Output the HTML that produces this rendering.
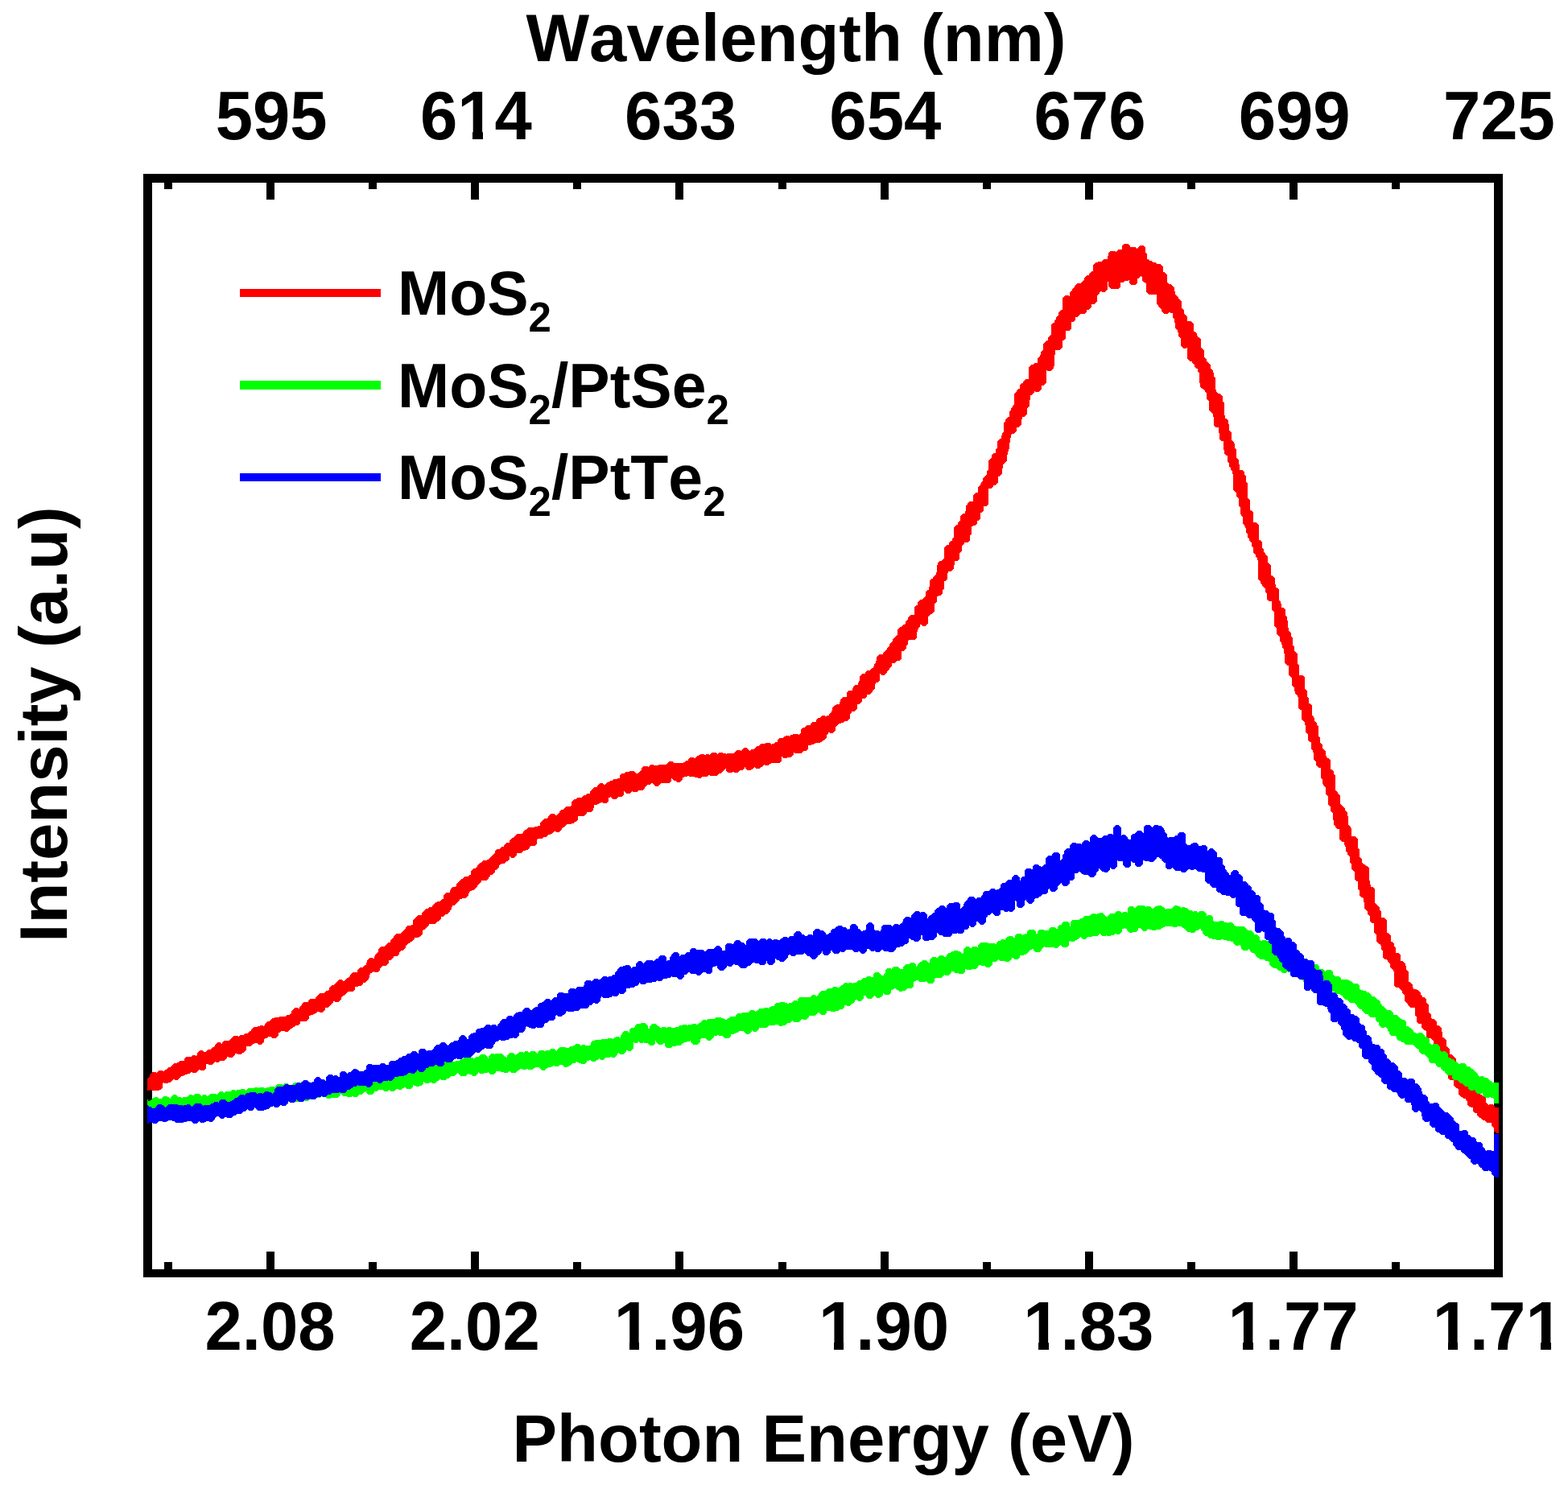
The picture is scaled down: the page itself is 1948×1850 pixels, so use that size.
<!DOCTYPE html>
<html><head><meta charset="utf-8"><title>PL spectra</title>
<style>
html,body{margin:0;padding:0;background:#fff;}
body{width:1948px;height:1850px;overflow:hidden;}
svg{display:block;}
text{font-kerning:none;font-family:"Liberation Sans",Arial,Helvetica,sans-serif;font-weight:bold;fill:#000;}
.ax text{font-size:83.3px;}
.lg text{font-size:77px;}
</style></head><body>
<svg width="1948" height="1850" viewBox="0 0 1948 1850">
<rect width="1948" height="1850" fill="#fff"/>
<g class="frame">
<g fill="#000" shape-rendering="crispEdges">
<rect x="178" y="216" width="11" height="1371"/>
<rect x="1856" y="216" width="11" height="1371"/>
<rect x="178" y="216" width="1689" height="11"/>
<rect x="178" y="1577" width="1689" height="10"/>
<rect x="331" y="220" width="10" height="28"/>
<rect x="331" y="1555" width="10" height="28"/>
<rect x="585" y="220" width="10" height="28"/>
<rect x="585" y="1555" width="10" height="28"/>
<rect x="839" y="220" width="10" height="28"/>
<rect x="839" y="1555" width="10" height="28"/>
<rect x="1094" y="220" width="10" height="28"/>
<rect x="1094" y="1555" width="10" height="28"/>
<rect x="1348" y="220" width="10" height="28"/>
<rect x="1348" y="1555" width="10" height="28"/>
<rect x="1602" y="220" width="10" height="28"/>
<rect x="1602" y="1555" width="10" height="28"/>
<rect x="204" y="220" width="10" height="15"/>
<rect x="204" y="1568" width="10" height="15"/>
<rect x="458" y="220" width="10" height="15"/>
<rect x="458" y="1568" width="10" height="15"/>
<rect x="712" y="220" width="10" height="15"/>
<rect x="712" y="1568" width="10" height="15"/>
<rect x="967" y="220" width="10" height="15"/>
<rect x="967" y="1568" width="10" height="15"/>
<rect x="1221" y="220" width="10" height="15"/>
<rect x="1221" y="1568" width="10" height="15"/>
<rect x="1475" y="220" width="10" height="15"/>
<rect x="1475" y="1568" width="10" height="15"/>
<rect x="1729" y="220" width="10" height="15"/>
<rect x="1729" y="1568" width="10" height="15"/>
</g>
</g>
<g class="ax">
<text x="989" y="76" text-anchor="middle">Wavelength (nm)</text>
<text x="1023" y="1816" text-anchor="middle">Photon Energy (eV)</text>
<text transform="translate(82.5,900) rotate(-90)" text-anchor="middle">Intensity (a.u)</text>
<text transform="translate(337.2,173) scale(1,1.03)" text-anchor="middle">595</text>
<text transform="translate(591.4,173) scale(1,1.03)" text-anchor="middle">614</text>
<text transform="translate(845.6,173) scale(1,1.03)" text-anchor="middle">633</text>
<text transform="translate(1099.8,173) scale(1,1.03)" text-anchor="middle">654</text>
<text transform="translate(1354.0,173) scale(1,1.03)" text-anchor="middle">676</text>
<text transform="translate(1608.2,173) scale(1,1.03)" text-anchor="middle">699</text>
<text transform="translate(1862.4,173) scale(1,1.03)" text-anchor="middle">725</text>
<text transform="translate(335.5,1677) scale(1,1.03)" text-anchor="middle">2.08</text>
<text transform="translate(589.7,1677) scale(1,1.03)" text-anchor="middle">2.02</text>
<text transform="translate(843.9,1677) scale(1,1.03)" text-anchor="middle">1.96</text>
<text transform="translate(1098.1,1677) scale(1,1.03)" text-anchor="middle">1.90</text>
<text transform="translate(1352.3,1677) scale(1,1.03)" text-anchor="middle">1.83</text>
<text transform="translate(1606.5,1677) scale(1,1.03)" text-anchor="middle">1.77</text>
<text transform="translate(1860.7,1677) scale(1,1.03)" text-anchor="middle">1.71</text>
</g>
<g class="glyphfix" fill="#fff" shape-rendering="crispEdges">
<rect x="573" y="162" width="14" height="13"/>
<rect x="600" y="162" width="13" height="13"/>
<rect x="768" y="1666" width="14" height="13"/>
<rect x="794" y="1666" width="13" height="13"/>
<rect x="1022" y="1666" width="14" height="13"/>
<rect x="1048" y="1666" width="13" height="13"/>
<rect x="1276" y="1666" width="14" height="13"/>
<rect x="1303" y="1666" width="13" height="13"/>
<rect x="1530" y="1666" width="14" height="13"/>
<rect x="1557" y="1666" width="13" height="13"/>
<rect x="1785" y="1666" width="14" height="13"/>
<rect x="1811" y="1666" width="13" height="13"/>
<rect x="1900" y="1666" width="14" height="13"/>
<rect x="1927" y="1666" width="13" height="13"/>
</g>
<g class="curves" stroke="none" shape-rendering="crispEdges">
<path d="M183,1340h1v-1h1v-1h1v-3h1v-1h1v-1h1v-1h5v1h1v-1h1v-1h1v-1h5v1h2v-1h1v-1h2v-1h1v-1h1v-1h3v-1h1v-1h1v-1h1v-1h1v-1h4v-1h2v-1h1v-1h6v-3h1v-1h1v-1h7v-1h1v-1h4v1h1v-1h1v-3h1v-1h1v-1h1v-1h4v1h1v1h3v-1h1v-1h1v-1h4v-1h1v-1h1v-1h2v-1h1v-2h1v-1h1v-1h1v-1h4v1h1v1h1v-2h1v-1h1v-1h7v-1h1v-1h1v-1h1v-1h1v-1h1v-1h6v1h1v-1h1v-1h5v-1h1v-1h4v-1h1v-1h1v-1h2v-2h1v-1h1v-1h1v-1h5v-1h3v-1h4v1h1v-1h1v-2h1v-1h1v-1h1v-1h3v-1h1v-1h1v-1h1v-1h3v-1h6v-1h8v-1h1v-1h4v-1h1v-1h1v-3h1v-1h1v-1h1v-1h1v-1h4v1h2v-2h1v-1h1v-1h1v-2h1v-1h1v-1h6v-2h1v-1h1v-1h7v-2h1v-1h1v-1h1v-1h1v-1h1v-1h6v-1h1v-1h1v-1h3v-1h1v-3h1v-1h1v-1h1v-1h3v-1h1v-1h1v-1h1v-1h1v-1h1v-1h1v-1h4v1h1v1h2v-1h1v-1h1v-1h1v-1h2v-1h1v-1h1v-2h1v-1h1v-1h1v-1h6v-3h1v-1h1v-1h1v-1h4v-1h1v-1h1v-1h2v-3h1v-3h1v-1h1v-1h1v-1h4v1h2v-3h1v-2h1v-1h1v-1h1v-1h1v-4h1v-1h1v-1h1v-1h5v-1h1v-1h1v-1h1v-1h1v-1h3v-3h1v-1h1v-1h1v-1h1v-2h1v-1h1v-1h1v-1h6v-1h1v-1h1v-1h1v-1h1v-1h1v-1h1v-2h1v-1h1v-1h5v-1h2v-6h1v-1h1v-1h1v-1h1v-1h1v-1h1v-1h5v-3h1v-1h1v-1h1v-1h1v-1h1v-1h3v-1h1v-1h4v-2h1v-1h1v-1h1v-1h1v-1h2v-1h4v-1h1v-1h1v-1h2v-5h1v-1h1v-1h1v-1h5v-3h1v-2h1v-1h1v-1h4v-1h1v-3h1v-1h1v-1h1v-1h1v-1h1v-1h1v-1h2v-1h1v-1h1v-1h5v-1h1v-1h2v-5h1v-1h1v-1h1v-1h3v-1h1v-1h1v-2h1v-1h1v-1h1v-1h2v-1h1v-1h1v-1h5v-1h2v-1h1v-1h1v-1h1v-1h1v-1h1v-1h1v-1h1v-1h1v-3h1v-1h1v-1h4v-1h1v-1h1v-1h3v-2h1v-1h1v-1h1v-1h4v-3h1v-1h1v-1h1v-1h2v-1h1v-1h1v-1h1v-1h1v-1h7v-1h1v-2h1v-1h1v-1h2v-1h1v-1h1v-1h8v-1h4v-1h3v-4h1v-1h1v-1h1v-1h1v-1h1v-1h4v-1h1v-2h1v-1h1v-1h1v-1h5v1h1v1h2v-1h1v-1h1v-1h1v-2h1v-1h1v-1h3v-1h1v-1h1v-1h1v-1h6v-1h1v-5h1v-1h1v-1h1v-1h3v-1h1v-1h6v-1h1v-1h1v-1h3v-1h1v-1h4v-3h1v-1h1v-1h1v-1h1v-1h1v-1h4v-2h1v-1h1v-1h1v-1h4v1h1v1h2v-1h1v-1h1v-1h2v-1h2v-1h3v-1h1v-1h5v-1h3v-4h1v-1h1v-1h4v-1h1v-1h5v-1h6v1h1v1h1v1h3v-1h1v-1h1v-1h1v-1h1v-3h1v-1h1v-1h6v1h1v-1h1v-1h1v-1h4v1h6v-1h10v-1h1v-1h1v-1h1v-1h5v1h1v1h12v-1h2v-1h1v-1h3v-2h1v-1h1v-1h5v1h2v-1h1v-1h1v-1h2v-1h2v-1h5v1h2v-1h4v1h1v-1h1v-1h1v-1h6v1h1v1h1v-1h1v-1h5v1h4v1h1v-1h9v-1h1v-1h1v-1h1v-1h5v1h1v-1h1v-1h1v-1h1v-1h4v1h1v1h1v1h1v1h1v-1h1v-1h4v-1h1v-1h1v-1h1v-1h3v-1h1v-1h1v-1h6v-1h6v1h1v1h1v-1h3v-1h1v-1h3v-3h1v-1h1v-1h5v-1h1v-1h2v-1h4v1h1v-1h1v-1h3v-1h7v1h1v-1h1v-1h1v-5h1v-1h1v-1h3v-1h1v-1h1v-1h5v-2h1v-1h1v-1h5v-3h1v-1h1v-1h3v-1h1v-1h1v-1h4v1h2v-1h3v-2h1v-1h1v-1h1v-2h1v-4h1v-1h1v-1h1v-1h2v-1h4v-3h1v-3h1v-1h1v-1h1v-1h5v-6h1v-1h1v-1h5v-3h1v-2h1v-1h1v-1h4v-3h1v-2h1v-6h1v-1h1v-1h1v-1h4v-2h1v-1h1v-1h4v-1h1v-1h1v-1h2v-2h1v-3h1v-1h1v-3h1v-5h1v-1h1v-1h1v-1h5v-2h1v-1h1v-1h1v-1h1v-1h1v-2h1v-1h1v-1h1v-3h1v-1h1v-1h1v-1h1v-3h1v-1h1v-1h1v-1h1v-1h1v-1h1v-7h1v-1h1v-1h1v-1h2v-1h1v-1h1v-1h2v-1h1v-3h1v-1h1v-1h1v-3h1v-1h1v-1h1v-1h5v-10h1v-1h1v-1h2v-4h1v-1h1v-1h1v-1h3v-1h1v-1h1v-1h1v-1h1v-6h1v-1h1v-1h2v-4h1v-8h1v-1h1v-1h2v-2h1v-1h1v-1h1v-1h1v-3h1v-9h1v-3h1v-1h1v-1h3v-1h1v-1h1v-1h1v-14h1v-1h1v-1h1v-1h3v-3h1v-1h1v-1h2v-3h1v-1h1v-13h1v-1h1v-1h1v-1h2v-3h1v-1h1v-1h1v-6h1v-1h1v-1h1v-1h3v-3h1v-7h1v-1h1v-2h1v-1h1v-1h5v-8h1v-1h1v-1h1v-1h3v-7h1v-1h1v-1h1v-2h1v-2h1v-1h1v-4h1v-1h1v-1h1v-1h1v-1h1v-5h1v-1h1v-12h1v-1h1v-1h1v-1h1v-4h1v-1h1v-1h3v-5h1v-1h1v-9h1v-1h1v-1h1v-1h2v-4h1v-3h1v-1h1v-12h1v-1h1v-3h1v-1h1v-1h1v-1h2v-7h1v-1h1v-3h1v-1h1v-2h1v-1h1v-14h1v-1h1v-1h1v-2h1v-1h1v-1h2v-5h1v-1h1v-1h2v-2h1v-1h1v-1h1v-1h4v-15h1v-1h1v-1h1v-1h3v-1h1v-1h4v-6h1v-1h1v-1h1v-2h1v-4h1v-1h1v-1h1v-8h1v-1h1v-1h1v-1h1v-1h2v-4h1v-1h1v-1h1v-1h1v-13h1v-1h1v-1h2v-3h1v-1h1v-3h1v-1h1v-1h1v-4h1v-1h1v-1h1v-1h2v-15h1v-1h1v-1h1v-1h5v1h1v-5h1v-1h1v-1h1v-2h1v-1h1v-1h1v-2h1v-1h1v-1h1v-1h5v-1h1v-1h1v-1h1v-1h1v-3h1v-1h1v-1h1v-1h3v-2h1v-1h1v-1h1v-1h2v-8h1v-1h1v-1h1v-1h3v-1h5v-1h1v-1h1v-1h5v-4h1v-4h1v-1h1v-1h7v1h1v-1h1v-1h1v-1h5v-5h1v-1h1v-1h6v1h1v1h1v2h7v1h1v1h1v-1h1v-1h1v-1h1v-1h5v1h1v1h1v7h1v1h1v7h2v1h1v1h3v1h1v1h4v1h1v1h5v1h1v1h1v1h1v7h2v1h1v1h1v1h1v10h1v1h1v1h3v1h1v1h1v1h1v1h1v5h1v4h1v1h1v1h1v1h1v2h1v1h1v1h1v1h1v9h1v1h1v1h1v5h1v1h1v1h1v1h1v6h5v1h1v1h1v1h1v10h2v1h1v1h1v3h1v2h2v1h1v1h1v11h1v1h1v1h1v1h1v9h1v1h1v1h1v3h1v1h1v1h1v1h1v1h1v5h1v1h1v1h1v3h1v5h1v1h1v15h1v3h1v1h1v1h3v1h1v1h1v1h1v7h1v1h1v16h1v4h2v1h1v1h1v5h1v8h1v1h1v1h1v10h1v1h1v1h1v2h1v6h1v1h1v11h1v1h1v1h1v6h1v7h4v1h1v1h1v4h1v1h1v8h1v1h1v19h1v1h1v1h1v13h2v1h1v1h1v13h4v1h1v1h1v1h1v19h2v1h1v1h1v8h1v1h1v4h1v1h1v2h1v1h1v1h1v8h1v1h1v1h1v1h1v13h2v1h1v1h1v1h1v8h1v4h2v1h1v1h1v14h1v1h1v3h1v5h3v1h1v1h1v8h1v1h1v5h1v9h1v4h1v1h1v1h1v5h1v1h1v10h1v1h1v6h1v1h1v1h1v1h1v13h1v1h1v13h5v1h1v1h1v15h1v1h1v1h1v8h1v1h1v7h2v1h1v1h1v13h1v1h1v2h1v4h1v1h1v1h1v3h1v1h1v13h1v1h1v7h1v1h1v1h1v5h1v1h1v1h1v1h1v6h1v2h1v1h2v1h1v1h1v12h2v1h1v1h1v4h1v1h1v19h1v1h1v1h1v2h1v1h1v1h1v11h1v1h1v1h1v1h1v1h1v1h1v3h1v1h1v1h1v5h1v11h1v1h1v1h1v2h1v10h5v1h1v1h1v1h1v12h1v1h1v10h1v1h1v1h1v5h1v1h1v1h2v1h1v1h2v1h1v1h1v16h1v5h1v3h3v1h1v1h1v18h1v1h1v1h1v1h1v1h1v1h1v4h1v1h1v8h4v1h1v1h1v1h1v16h2v1h1v1h1v1h1v8h2v1h1v1h1v4h1v1h1v7h4v1h1v1h1v8h3v1h1v1h1v1h1v3h1v5h1v1h1v1h1v13h2v1h1v1h1v1h1v4h1v2h4v1h2v1h1v1h1v1h1v3h1v1h1v2h3v1h1v1h1v5h1v1h1v1h1v10h1v1h1v1h1v5h1v1h3v1h1v1h1v1h1v5h3v1h1v1h1v1h1v5h1v7h2v1h1v1h1v1h1v8h1v1h1v1h1v1h1v7h3v1h1v1h1v1h1v1h1v1h1v5h1v1h1v1h1v1h1v5h3v1h1v1h1v1h1v7h1v1h1v4h4v1h1v1h1v1h1v2h1v1h1v1h1v1h1v3h4v1h1v1h1v2h1v2h2v1h1v1h2v1h1v1h1v6h1v1h1v1h1v1h1v-1h5v1h1v1h1v2h5V1408h-3v-1h-1v-1h-2v-5h-1v-1h-1v-1h-1v-4h-6v-1h-1v-1h-1v-1h-3v-1h-1v-1h-1v-1h-2v-1h-1v-1h-1v-1h-1v-3h-3v-1h-1v-1h-1v-5h-3v-1h-2v-1h-1v-1h-1v-5h-1v-1h-1v-2h-3v-1h-1v-1h-2v-1h-1v-1h-1v-1h-1v-7h-1v-1h-2v-1h-1v-1h-1v-1h-1v-7h-5v-1h-1v-1h-1v-4h-1v-1h-1v-1h-1v-11h-1v-1h-1v-2h-1v-1h-1v-1h-1v-6h-1v1h-4v-1h-1v-1h-1v-1h-1v-6h-1v-1h-1v-10h-1v-1h-1v-1h-1v-1h-4v-1h-1v-1h-1v-7h-1v-1h-2v-1h-1v-1h-1v-1h-1v-5h-4v-1h-1v-1h-1v-7h-1v-1h-1v-10h-6v-1h-1v-1h-1v-1h-1v-2h-1v-1h-1v-1h-1v-1h-1v-8h-1v-1h-1v-1h-1v-3h-1v-1h-1v-1h-1v-1h-1v-1h-4v-1h-1v-1h-1v-18h-1v-2h-1v-1h-1v-1h-1v-1h-1v-5h-1v-1h-1v-1h-1v-2h-1v-1h-3v-1h-1v-1h-1v-9h-1v-1h-1v-5h-1v-2h-2v-1h-1v-1h-1v-1h-1v-9h-1v-1h-1v-1h-1v-12h-3v-1h-1v-1h-1v-7h-1v-1h-1v-1h-1v-4h-1v-1h-1v-1h-1v-1h-1v-8h-1v-5h-1v-1h-2v-1h-1v-1h-1v-7h-1v-1h-1v-10h-2v-1h-1v-1h-1v-10h-1v-1h-1v-1h-1v-1h-1v-7h-1v-1h-1v-8h-1v-1h-1v-1h-1v-3h-1v-1h-1v-6h-1v-2h-1v-4h-3v-1h-1v-1h-1v-1h-1v-13h-3v-1h-1v-1h-1v-2h-1v-1h-1v-6h-1v-9h-1v-1h-1v-1h-1v-6h-1v-1h-1v-1h-1v-11h-1v-1h-1v-1h-1v-9h-1v-1h-1v-1h-1v-2h-1v-6h-1v-1h-1v-13h-3v-1h-1v-1h-1v-1h-1v-5h-1v-1h-1v-1h-1v-9h-1v-3h-1v-1h-1v-9h-2v-1h-1v-1h-1v-8h-1v-1h-1v-1h-1v-9h-1v-4h-1v-1h-1v-1h-1v-1h-1v-12h-2v-1h-1v-1h-1v-14h-1v-2h-1v-1h-1v-1h-1v-3h-1v-5h-1v-1h-1v-1h-1v-10h-1v-1h-1v-1h-1v-1h-1v-12h-2v-1h-1v-1h-1v-1h-1v-12h-1v-6h-1v-1h-1v-4h-1v-3h-1v-1h-1v-6h-1v-1h-1v-1h-1v-1h-1v-8h-1v-1h-1v-1h-1v-18h-1v-1h-1v-1h-1v-11h-4v-1h-1v-1h-1v-8h-1v-1h-1v-5h-1v-1h-1v-1h-1v-1h-1v-2h-1v-1h-1v-3h-1v-1h-1v-1h-1v-24h-1v-3h-1v-1h-1v-3h-1v-1h-1v-1h-1v-7h-1v-1h-1v-5h-1v-1h-1v-1h-1v-3h-1v-1h-1v-5h-1v-1h-1v-6h-1v-2h-1v-2h-1v-1h-1v-9h-1v-1h-1v-2h-1v-9h-1v-1h-1v-10h-1v-1h-1v-1h-1v-5h-1v-1h-1v-1h-1v-1h-1v-20h-1v-4h-1v-1h-1v-3h-1v-1h-1v-5h-1v-1h-1v-8h-2v-1h-1v-1h-1v-5h-1v-11h-3v-1h-1v-1h-1v-8h-1v-7h-4v-1h-1v-1h-1v-11h-1v-4h-1v-1h-1v-1h-1v-1h-1v-1h-1v-12h-1v-1h-1v-1h-1v-8h-1v-1h-1v-2h-1v-1h-1v-1h-2v-1h-1v-1h-1v-5h-1v-13h-1v-1h-1v-4h-2v-1h-1v-1h-1v-3h-1v-1h-1v-1h-1v-2h-3v-1h-1v-1h-1v-1h-1v-14h-1v1h-4v-1h-1v-1h-1v-1h-1v-10h-1v-1h-1v-1h-1v-5h-1v-3h-1v-1h-1v-1h-1v-7h-1v-5h-1v-1h-1v-6h-3v-1h-2v1h-1v1h-5v-1h-1v-1h-1v-1h-1v-3h-1v-1h-1v-1h-1v-1h-1v-2h-1v-1h-1v-12h-10v-1h-1v-1h-1v-1h-1v-11h-1v-1h-2v-1h-1v-1h-1v-5h-1v-1h-1v1h-1v1h-1v1h-2v6h-1v1h-1v1h-6v-1h-1v-1h-1v-4h-1v1h-5v1h-1v1h-4v6h-1v1h-1v1h-10v-1h-1v-1h-1v-1h-1v-6h-1v10h-1v1h-1v1h-1v1h-4v-1h-2v1h-1v2h-1v1h-1v1h-1v8h-1v1h-1v1h-1v1h-4v4h-1v1h-1v1h-1v1h-3v3h-1v1h-1v1h-6v1h-1v1h-1v1h-1v1h-3v4h-1v1h-1v1h-3v9h-1v1h-1v1h-5v10h-1v1h-1v1h-2v9h-1v1h-1v1h-1v1h-6v6h-1v14h-1v3h-1v1h-1v1h-1v1h-5v-1h-1v16h-1v1h-1v1h-1v1h-3v5h-1v1h-1v1h-1v1h-5v-1h-1v2h-1v1h-1v1h-1v1h-2v6h-1v8h-1v1h-1v1h-1v8h-1v1h-1v1h-1v1h-3v3h-1v7h-1v1h-1v1h-1v1h-3v5h-1v1h-1v1h-1v1h-3v1h-1v4h-1v6h-1v8h-1v3h-1v4h-1v8h-1v1h-1v1h-1v1h-1v1h-1v5h-1v7h-1v1h-1v1h-1v1h-2v8h-1v1h-1v1h-1v1h-3v2h-1v1h-1v1h-4v20h-1v1h-1v1h-4v6h-1v1h-1v1h-2v8h-1v1h-1v1h-2v4h-1v1h-1v1h-3v1h-2v10h-1v1h-1v7h-1v1h-1v1h-5v2h-1v1h-1v1h-1v7h-1v1h-1v1h-1v8h-1v1h-1v1h-4v5h-1v5h-1v1h-1v1h-1v1h-4v2h-1v8h-1v1h-1v1h-2v10h-1v1h-1v5h-1v1h-1v1h-3v1h-2v7h-1v1h-1v1h-1v10h-1v1h-1v1h-1v1h-2v1h-1v1h-1v1h-1v9h-1v1h-1v1h-1v1h-4v-1h-1v-1h-2v3h-1v1h-1v2h-1v3h-1v8h-1v1h-1v1h-8v1h-1v5h-1v1h-1v4h-1v1h-1v1h-1v1h-3v10h-1v1h-1v1h-4v1h-1v1h-1v1h-4v4h-1v1h-1v1h-1v2h-1v1h-1v1h-1v2h-1v1h-1v1h-1v1h-4v-1h-1v-1h-1v9h-1v1h-1v1h-3v2h-1v6h-1v1h-1v1h-1v2h-1v1h-1v1h-1v1h-4v3h-1v1h-1v1h-4v4h-1v1h-1v1h-1v1h-3v6h-1v1h-1v1h-1v1h-4v2h-1v1h-1v6h-1v1h-1v1h-1v1h-4v1h-1v1h-3v1h-3v1h-1v1h-1v1h-1v1h-1v5h-1v1h-1v1h-1v1h-4v-1h-2v2h-1v1h-1v4h-1v1h-1v1h-1v1h-2v1h-1v1h-2v1h-6v1h-2v1h-3v1h-4v5h-1v1h-1v1h-4v1h-1v1h-1v1h-9v-1h-1v3h-1v1h-1v1h-1v1h-5v1h-5v-1h-1v-1h-1v6h-1v1h-1v1h-11v1h-2v1h-1v1h-5v-1h-1v1h-1v1h-1v1h-2v1h-1v1h-5v-1h-1v-1h-1v1h-1v1h-1v1h-2v1h-5v-1h-1v-1h-1v-2h-1v2h-1v1h-1v1h-4v1h-1v1h-1v1h-5v-1h-2v1h-6v-1h-1v-1h-1v-3h-1v1h-1v1h-1v1h-1v1h-1v1h-1v1h-3v1h-1v1h-1v1h-9v-1h-2v1h-1v1h-7v1h-1v1h-4v-1h-4v-1h-7v-1h-2v1h-4v1h-2v3h-1v1h-1v1h-1v1h-4v-1h-1v-1h-3v-1h-1v-1h-1v-1h-1v4h-1v1h-1v1h-11v1h-1v1h-1v1h-1v1h-4v-1h-1v-1h-1v-1h-1v-1h-2v1h-1v1h-4v1h-1v1h-1v1h-1v2h-1v1h-1v1h-6v1h-1v1h-6v-1h-1v1h-1v1h-1v1h-5v-1h-1v-1h-1v-1h-1v5h-1v1h-1v1h-5v1h-1v1h-1v1h-5v-1h-1v-1h-1v-1h-1v1h-2v5h-1v1h-1v1h-5v-1h-3v1h-2v1h-2v1h-4v4h-1v3h-1v1h-1v1h-6v2h-1v1h-1v1h-1v1h-8v5h-1v1h-1v1h-2v1h-1v1h-3v1h-6v1h-1v1h-1v1h-1v1h-2v1h-1v2h-1v1h-1v1h-1v1h-4v-1h-3v1h-1v1h-1v1h-2v1h-3v1h-1v1h-1v1h-4v1h-1v1h-6v1h-1v6h-1v1h-1v1h-6v1h-1v2h-1v1h-1v1h-3v1h-3v1h-1v1h-1v1h-6v3h-1v1h-1v1h-1v1h-4v-1h-1v-1h-1v4h-1v1h-1v1h-2v1h-1v1h-1v1h-4v1h-2v1h-1v3h-1v1h-1v1h-1v1h-2v3h-1v1h-1v1h-1v1h-3v2h-1v1h-1v2h-1v1h-1v1h-7v2h-1v1h-1v1h-1v1h-1v1h-1v2h-1v1h-1v1h-1v1h-1v1h-3v1h-2v1h-1v2h-1v3h-1v1h-1v1h-1v1h-5v1h-3v2h-1v1h-1v1h-1v1h-1v1h-1v1h-1v1h-3v2h-1v3h-1v1h-1v2h-1v1h-1v1h-1v1h-3v1h-1v1h-1v1h-3v3h-1v1h-1v1h-1v1h-2v1h-1v1h-1v1h-8v2h-1v1h-1v1h-1v1h-1v1h-1v1h-2v1h-1v5h-1v1h-1v1h-1v1h-2v1h-5v2h-1v1h-1v1h-1v1h-2v1h-1v1h-2v1h-1v1h-1v1h-1v3h-1v1h-1v1h-1v1h-3v1h-1v1h-1v3h-1v1h-1v1h-5v2h-1v1h-1v1h-1v1h-3v4h-1v1h-1v1h-1v1h-5v1h-1v1h-1v1h-1v3h-1v1h-1v1h-5v-1h-1v1h-2v1h-2v2h-1v4h-1v2h-1v1h-1v1h-1v1h-1v1h-3v2h-1v1h-1v1h-4v1h-4v4h-1v1h-1v1h-7v1h-1v1h-1v1h-1v1h-1v1h-2v1h-1v1h-1v3h-1v1h-1v1h-1v1h-5v-1h-2v2h-1v1h-1v1h-1v1h-1v1h-1v1h-1v1h-4v3h-1v1h-1v1h-1v1h-4v-1h-3v1h-1v1h-2v1h-2v1h-3v1h-2v4h-1v1h-1v1h-1v1h-8v3h-1v1h-1v1h-4v1h-1v1h-2v1h-1v1h-2v1h-1v1h-1v1h-1v1h-4v-1h-5v1h-1v1h-2v4h-1v1h-1v1h-1v1h-5v-1h-1v-1h-4v1h-1v1h-3v1h-1v4h-1v1h-1v1h-1v1h-4v-1h-1v-1h-4v1h-2v1h-1v1h-1v1h-6v5h-1v1h-1v1h-1v1h-2v1h-1v1h-5v-1h-3v2h-1v1h-1v1h-1v1h-5v-1h-2v2h-1v1h-1v1h-1v1h-6v1h-1v1h-4v-1h-1v1h-1v1h-1v1h-1v1h-5v-1h-3v6h-1v1h-1v1h-5v-1h-2v1h-1v1h-1v1h-1v1h-5v-1h-2v1h-1v1h-3v1h-3v1h-2v1h-3v1h-1v1h-1v1h-1v1h-1v1h-4v-1h-2v1h-1v1h-1v1h-1v1h-3v1h-5v-1h-1v1h-1v6h-1v1h-1v1h-2v1h-10v-1h-2v1h-3z" fill="#f00"/>
<path d="M183,1366h1v2h2v-1h2v-1h1v-1h1v-1h2v-1h4v1h1v1h4v-1h1v-1h1v-1h5v1h2v1h1v1h1v-2h1v-1h1v-1h1v-1h4v1h1v1h1v1h4v1h2v-1h6v-1h1v-1h1v-1h4v1h2v-1h1v-1h6v1h1v1h1v1h1v-1h1v-1h4v1h1v1h1v-1h2v-1h1v-1h8v1h1v-1h1v-1h1v-1h1v-1h4v1h1v1h1v-1h1v-1h7v-1h1v-1h4v1h2v-1h5v-1h5v1h1v1h1v-1h1v-1h1v-1h8v-1h5v1h1v-1h6v1h3v-1h4v-1h6v1h1v-2h1v-1h1v-1h7v1h1v-1h1v-1h5v1h1v1h1v1h2v-1h1v-1h1v-1h1v-1h6v1h2v-1h1v-1h4v1h1v1h1v-1h1v-1h4v1h1v1h1v-1h6v-1h1v-1h1v-1h6v1h3v1h1v1h6v-1h2v-1h4v-1h1v-1h1v-1h2v-1h4v1h1v1h8v1h1v1h2v-1h1v-1h1v-1h1v-1h1v-1h11v1h1v1h2v-1h1v-1h4v1h1v1h1v-1h4v-1h1v-1h4v-2h1v-1h1v-1h5v1h1v1h1v1h2v-1h4v-1h1v-1h6v-1h6v1h1v-2h1v-1h1v-1h5v1h3v-1h1v-1h6v1h2v-1h1v-1h1v-1h5v1h1v-1h2v-1h1v-1h2v-1h1v-1h1v-1h5v1h1v-1h1v-1h5v-1h1v-1h5v1h2v-1h1v-1h4v1h4v1h3v-1h5v-1h1v-1h3v-1h1v-1h1v-1h1v-1h5v1h1v1h4v1h2v-1h1v-1h4v-1h1v-1h1v-1h6v1h1v1h1v1h1v2h1v-3h1v-1h1v-1h1v-1h4v1h1v-1h9v1h1v1h1v1h1v1h2v1h1v-3h1v-1h1v-1h1v-1h5v1h1v1h1v1h1v-1h1v-1h2v-1h1v-1h5v1h1v-1h1v-1h4v1h1v1h1v-1h1v-1h6v1h1v1h1v1h1v-2h1v-1h1v-1h6v1h2v-1h5v-1h1v-1h5v1h1v1h1v1h1v-2h1v-1h1v-1h1v-1h8v1h4v-1h1v-1h4v-1h2v-1h1v-1h5v1h1v1h2v-1h4v1h6v-1h1v-3h1v-1h1v-1h3v-1h8v-1h8v-1h6v1h1v-1h1v-1h2v-1h4v1h2v-3h1v-1h1v-2h1v-1h1v-1h5v1h1v1h1v-4h1v-1h1v-1h4v-1h1v-2h1v-1h1v-1h5v-1h6v1h1v1h1v1h1v4h2v-3h1v-1h1v-1h1v-1h5v1h1v1h1v1h2v1h1v1h2v-1h5v1h2v-1h5v1h5v-1h4v-1h1v-1h4v-1h5v1h2v-1h5v-1h5v1h2v-1h1v-1h2v-1h1v-1h1v-1h1v-1h4v1h1v-1h1v-1h9v-1h1v-1h7v1h3v1h2v1h2v-1h1v-1h2v-1h1v-1h7v-2h1v-1h1v-1h6v-1h8v-1h1v-1h1v-1h5v1h1v1h1v-1h2v-1h1v-1h1v-1h6v-1h5v1h1v-1h1v-1h2v-1h4v-2h1v-1h1v-1h5v-1h6v1h3v1h2v-1h4v-1h1v-1h1v-1h4v1h1v-3h1v-1h1v-1h14v-1h1v-1h1v-1h4v1h1v1h1v-1h1v-1h1v-2h1v-1h1v-1h1v-1h6v-1h1v-1h1v-1h6v-1h1v-1h5v1h3v-1h1v-1h1v-1h2v-1h1v-1h1v-1h4v1h1v-1h5v1h1v-1h4v-1h1v-1h1v-1h4v-1h1v-1h1v-1h4v-1h1v-1h5v1h3v-4h1v-1h1v-1h5v1h1v1h1v1h1v1h3v-2h1v-1h1v-4h1v-1h1v-1h5v1h1v-1h1v-1h1v-1h6v1h1v1h1v1h4v-3h1v-1h1v-1h1v-1h5v-1h1v-1h5v1h1v1h1v3h1v-1h1v-2h1v-1h1v-1h1v-1h2v-1h1v-1h5v1h1v1h1v1h2v-4h1v-1h1v-1h1v-1h5v1h2v-1h1v-1h1v-1h5v1h1v1h2v-1h1v-2h1v-1h1v-1h3v-1h1v-1h3v-1h5v1h3v1h1v1h1v1h1v-1h1v-5h1v-1h1v-1h1v-1h4v1h1v1h2v-1h1v-1h6v1h1v-3h1v-1h1v-1h1v-1h9v1h9v1h2v-2h1v-1h1v-1h3v-1h1v-1h4v1h1v-2h1v-1h1v-1h2v-1h5v1h1v1h2v-3h1v-1h1v-1h6v1h1v1h1v-1h2v-1h3v-3h1v-1h1v-1h7v1h1v1h1v3h2v-3h1v-1h1v-1h6v1h6v-2h1v-1h1v-1h6v1h1v1h2v-3h1v-1h1v-1h3v-2h1v-1h1v-1h6v1h1v1h1v4h1v-6h1v-1h1v-1h9v-1h1v-1h3v-1h1v-1h1v-1h7v-1h1v-1h2v-1h4v1h2v-1h3v-1h4v1h1v1h1v1h1v1h1v1h2v-1h1v-1h1v-1h1v-1h6v-1h1v-1h1v-1h5v1h1v1h2v-1h5v1h1v-6h1v-1h1v-1h5v1h1v1h2v-1h1v-1h1v-1h9v1h1v1h1v-1h5v1h1v1h1v1h2v-1h1v-1h1v-1h3v-1h5v1h1v1h2v1h1v1h1v1h1v-1h7v-1h1v-1h1v-1h1v-1h4v1h3v1h1v1h1v-1h4v1h3v1h1v1h1v1h4v1h1v1h1v-1h4v1h1v1h1v-1h1v-1h6v1h1v1h1v1h1v3h1v-1h5v1h1v1h1v5h1v1h7v-1h5v1h1v1h4v1h1v-1h5v1h1v1h1v2h2v1h11v1h1v1h1v1h1v1h1v1h5v1h1v1h1v1h1v2h4v1h1v1h1v1h1v4h1v1h2v-1h5v1h6v1h1v1h1v5h3v1h1v1h1v1h1v1h1v2h2v1h1v1h2v-1h6v1h1v1h5v1h1v1h5v1h1v1h1v1h1v5h3v1h1v1h1v-1h4v-1h1v-1h5v1h1v1h1v1h1v1h5v1h1v1h1v4h5v1h1v1h1v1h1v-1h1v-1h6v1h1v1h1v4h1v1h1v1h6v1h1v1h1v2h9v1h2v1h2v1h1v1h1v1h6v1h1v1h1v5h1v1h3v1h4v1h1v1h3v1h1v1h1v1h1v2h4v1h1v1h1v1h1v1h2v1h1v1h1v3h1v1h1v2h2v1h1v1h1v1h1v1h1v1h5v1h1v1h1v1h1v3h5v1h1v1h1v1h1v1h1v1h2v1h3v1h1v1h1v6h3v1h1v1h2v1h1v1h1v1h1v2h1v1h2v1h3v-1h5v1h1v1h1v1h1v2h3v1h1v1h1v1h1v5h1v1h1v1h2v-1h6v1h1v1h1v1h1v5h1v1h1v1h1v-1h4v1h1v1h1v1h1v5h3v1h1v1h3v1h1v1h1v1h2v1h1v1h1v1h2v-1h6v1h1v1h1v2h4v1h1v1h1v1h2v1h1v1h1v1h1v1h1v1h1v1h1v2h1v1h1v1h1v-1h4v1h1v1h4v1h1v1h1v1h1v1h2v1h1v1h8V1371h-6v-6h-1v-1h-3v-1h-2v1h-5v-1h-1v-1h-1v-1h-1v-3h-1v1h-6v-1h-1v-1h-1v-2h-1v-1h-1v1h-5v-1h-1v-1h-1v-3h-4v-1h-1v-1h-1v-1h-1v-1h-3v-1h-1v-1h-1v-1h-1v-1h-5v-1h-1v-1h-1v-4h-6v-1h-1v-1h-1v-1h-1v-2h-2v-1h-1v-1h-1v-1h-1v-2h-4v-1h-1v-1h-1v-2h-1v-1h-6v-1h-1v-1h-1v-4h-1v-1h-1v-1h-1v-1h-1v-1h-1v-1h-4v-1h-1v-1h-1v-1h-1v-3h-1v-1h-2v-1h-1v-1h-1v-1h-1v-1h-1v-1h-10v-1h-1v-1h-1v-1h-3v-1h-1v-1h-3v-1h-1v-1h-1v-3h-1v-1h-6v-1h-1v-1h-1v-3h-1v-1h-1v-3h-1v-1h-1v-1h-2v1h-4v-1h-1v-1h-1v-1h-1v-4h-2v-1h-1v-1h-1v-4h-7v-1h-1v-1h-1v-2h-4v-1h-1v-1h-1v-1h-1v-1h-1v-2h-3v-1h-1v-1h-1v-1h-1v-2h-1v-1h-1v-1h-1v-1h-6v-1h-1v-1h-1v-1h-1v-1h-3v-1h-1v-1h-1v-1h-1v-2h-2v-1h-1v-1h-5v-1h-1v-1h-1v-1h-4v-1h-1v-1h-3v-1h-7v-1h-1v-1h-1v-1h-1v-1h-3v-1h-1v-1h-1v-1h-1v-2h-1v-1h-1v1h-5v1h-1v1h-5v-1h-1v-1h-1v-2h-2v-1h-1v-1h-3v-1h-1v-1h-1v-4h-1v1h-4v-1h-1v-1h-1v-1h-4v-1h-1v1h-1v1h-5v-1h-1v-1h-1v-1h-3v-1h-1v-1h-1v-1h-4v-1h-2v-1h-1v-1h-1v-1h-1v-4h-1v-1h-4v-1h-1v-1h-6v-1h-1v-1h-2v-1h-1v-1h-1v-2h-1v-1h-1v-1h-3v-1h-1v-1h-1v-2h-1v-1h-1v1h-1v1h-6v-1h-1v-1h-1v-3h-1v-2h-2v1h-4v-1h-1v-1h-1v-1h-1v-2h-3v-1h-5v-1h-4v-1h-3v1h-6v-1h-5v-1h-4v-1h-1v-1h-1v-1h-3v-1h-1v-1h-1v-1h-1v-3h-1v-1h-1v-2h-2v1h-1v1h-3v1h-1v1h-1v1h-5v-1h-4v-1h-1v-1h-1v-1h-1v-1h-1v-1h-2v-1h-1v-1h-6v1h-5v-1h-10v1h-2v1h-2v1h-1v1h-6v1h-5v-1h-4v-1h-1v1h-1v1h-1v1h-4v-1h-1v-1h-1v-1h-1v-1h-3v3h-1v1h-1v1h-5v1h-4v-1h-1v-1h-1v-1h-1v-2h-2v-1h-1v1h-3v4h-1v1h-1v1h-1v1h-4v-1h-2v1h-1v1h-4v1h-5v-1h-1v1h-5v-1h-1v-1h-1v-1h-1v1h-1v1h-1v1h-7v1h-6v1h-1v1h-1v1h-4v-1h-1v-1h-1v-1h-1v1h-1v1h-1v1h-2v1h-2v1h-1v1h-5v-1h-1v1h-1v5h-1v1h-1v1h-6v-1h-1v-1h-1v-1h-1v1h-1v1h-1v1h-1v1h-4v-1h-12v-1h-1v1h-1v1h-1v1h-1v2h-1v1h-1v1h-6v-1h-1v-1h-1v-2h-2v1h-2v1h-1v1h-1v1h-1v1h-1v1h-1v1h-3v1h-5v3h-1v1h-1v1h-5v-1h-1v-1h-2v2h-1v1h-1v1h-1v1h-5v-1h-7v-1h-1v-1h-1v1h-1v1h-1v1h-5v4h-1v1h-1v1h-1v1h-5v-1h-1v-1h-5v-1h-3v1h-1v2h-1v1h-1v1h-6v1h-6v-1h-2v4h-1v1h-1v1h-6v-1h-5v-1h-1v-1h-3v2h-1v1h-1v1h-1v1h-5v-1h-1v1h-1v1h-1v1h-1v1h-8v1h-1v4h-1v1h-1v1h-6v-1h-1v-1h-1v-1h-1v1h-8v-1h-1v-1h-3v1h-2v1h-1v6h-1v1h-1v1h-6v1h-1v1h-1v1h-4v1h-4v-1h-1v-1h-2v-1h-1v-1h-2v1h-2v1h-2v4h-1v1h-1v1h-6v-1h-1v-1h-1v3h-1v1h-1v1h-2v1h-4v-1h-1v-1h-1v-1h-1v1h-1v1h-1v1h-1v1h-5v-1h-1v-1h-1v-2h-3v4h-1v1h-1v1h-1v1h-4v-1h-1v-1h-2v1h-1v2h-1v1h-1v1h-2v1h-1v1h-1v1h-4v-1h-3v3h-1v1h-1v1h-4v1h-1v1h-4v1h-6v-1h-5v3h-1v1h-1v1h-5v-1h-1v-1h-1v-1h-2v1h-1v1h-1v1h-1v1h-8v2h-1v1h-1v1h-1v1h-4v-1h-2v1h-1v1h-1v1h-1v1h-7v-1h-1v-1h-1v1h-1v1h-1v1h-4v1h-1v1h-1v1h-4v1h-4v-1h-1v-1h-4v1h-8v1h-1v1h-1v1h-10v2h-1v1h-1v1h-1v1h-4v-1h-1v-1h-1v2h-1v1h-1v1h-1v1h-4v-1h-1v-1h-1v-1h-1v-1h-6v1h-1v1h-3v1h-2v1h-4v3h-1v1h-1v1h-6v-1h-1v-1h-1v-1h-5v-1h-2v1h-4v2h-1v1h-1v1h-1v1h-1v1h-4v-1h-1v-1h-1v-1h-6v1h-1v4h-1v1h-1v1h-1v1h-6v-1h-1v-1h-1v-1h-1v-2h-1v1h-4v1h-3v1h-2v1h-1v1h-1v1h-6v1h-5v1h-1v1h-6v-1h-1v-1h-1v-4h-2v1h-1v1h-5v-1h-1v-1h-1v-1h-1v-2h-1v4h-1v1h-1v1h-5v-1h-1v-1h-1v-1h-5v-1h-1v1h-4v-1h-1v-1h-1v1h-1v1h-4v-1h-1v8h-1v1h-1v1h-1v1h-4v-1h-2v2h-1v1h-1v1h-1v1h-5v-1h-1v-1h-1v1h-1v2h-1v1h-1v1h-1v1h-4v-1h-2v1h-6v1h-1v1h-1v1h-4v-1h-1v-1h-1v1h-1v1h-2v1h-1v1h-5v-1h-1v-1h-2v1h-3v2h-1v1h-1v1h-5v-1h-3v-1h-2v-1h-1v1h-1v1h-4v1h-1v1h-1v1h-2v1h-2v1h-4v-1h-1v-1h-1v-1h-4v1h-1v1h-5v-1h-2v1h-2v1h-4v1h-2v1h-1v1h-1v1h-4v-1h-1v-1h-1v-1h-1v-1h-5v1h-2v1h-1v1h-6v-1h-2v1h-5v-1h-3v1h-1v1h-2v1h-1v1h-1v1h-6v-1h-1v-1h-2v1h-1v1h-5v-1h-4v-1h-6v2h-1v1h-1v1h-5v-1h-1v-1h-1v-1h-1v1h-5v1h-5v-1h-1v-1h-1v2h-1v1h-1v1h-1v1h-4v-1h-1v-1h-4v-1h-1v1h-1v1h-1v1h-7v-1h-1v-1h-1v-1h-1v-1h-1v1h-1v1h-1v1h-1v1h-5v1h-1v1h-1v1h-3v1h-1v1h-6v-1h-2v1h-1v1h-2v1h-1v1h-1v1h-4v-1h-4v1h-5v-1h-1v-1h-1v3h-1v1h-1v1h-3v1h-4v-1h-3v-1h-1v3h-1v1h-1v1h-6v-1h-1v-1h-2v1h-2v1h-1v1h-4v-1h-3v1h-1v1h-1v1h-5v-1h-1v-1h-1v1h-1v1h-5v-1h-1v-1h-6v1h-1v1h-4v2h-1v1h-1v1h-6v-1h-1v-1h-1v-2h-1v1h-2v1h-1v1h-1v1h-4v1h-1v1h-1v1h-5v-1h-2v1h-6v-1h-5v-1h-1v-1h-1v-1h-1v2h-1v1h-1v1h-1v1h-9v1h-5v-1h-1v-1h-5v-1h-1v1h-1v1h-4v-1h-1v1h-1v1h-3v1h-5v1h-1v1h-4v-1h-1v-1h-1v-1h-2v1h-2v1h-1v1h-1v1h-5v-1h-7v1h-4v1h-1v1h-5v-1h-1v-1h-2v1h-3v1h-4v-1h-1v-1h-1v-1h-1v2h-1v1h-1v1h-1v1h-5v-1h-1v-1h-1v-1h-1v1h-4v2h-1v1h-1v1h-1v1h-5v-1h-1v1h-1v1h-4v-1h-1v-1h-7v1h-1v1h-1v1h-6v-1h-1v1h-4v-1h-11v-1h-1v1h-4v1h-1v1h-1v1h-1v1h-4v-1h-1v1h-1v1h-5v-1h-1v-1h-1v-1h-1v-1h-1v1h-1v1h-1v1h-1v1h-5v1h-7v-1h-1v-1h-1v-1h-1v1h-1v1h-4v-1h-2v1h-1v1h-1v1h-4v-1h-4v-1h-2v1h-1v1h-1v1h-5v-1h-1v-1h-2v1h-1v1h-5v-1h-2v1h-1v1h-1v1h-5v-1h-1v-1h-1v-2h-3v1h-1v1h-1z" fill="#0f0"/>
<path d="M183,1373h1v1h1v1h3v1h1v1h3v-1h2v-2h1v-1h1v-1h5v1h2v1h1v1h1v1h1v-1h1v-1h1v-1h1v-1h12v1h6v1h1v-1h4v-1h4v1h1v1h1v1h1v-1h1v-1h1v-1h1v-1h8v1h1v1h1v1h1v-1h8v-1h1v-1h3v-1h1v-1h5v1h1v-2h1v-1h1v-1h6v1h1v1h1v1h4v-1h2v-1h2v-1h1v-1h1v-1h3v-1h1v-1h1v-1h1v-1h5v1h1v-1h1v-1h1v-1h4v-1h8v1h1v1h2v-1h5v1h1v-1h1v-1h1v-1h5v1h3v1h1v1h1v-1h1v-1h1v-4h1v-1h1v-1h1v-1h8v-1h1v-1h1v-1h4v1h9v-1h1v-1h1v-1h4v1h1v-1h1v-1h1v-1h1v-1h5v1h1v1h1v1h4v-1h2v-3h1v-1h1v-1h1v-1h4v1h1v1h1v1h4v1h1v1h1v-5h1v-1h1v-1h1v-1h5v1h1v1h1v-1h4v1h1v1h2v-5h1v-1h1v-1h5v1h1v1h1v1h1v-1h1v-1h3v-1h1v-1h1v-1h1v-1h4v1h2v1h1v1h6v-1h1v-1h2v-5h1v-1h1v-1h5v1h10v-1h1v-1h5v1h1v1h4v-3h1v-1h1v-1h7v-1h2v-1h1v-1h1v-1h3v-1h1v-1h4v-1h1v-1h1v-1h4v-1h1v-1h1v-1h5v1h1v1h1v1h1v-4h1v-1h1v-1h6v1h1v1h1v1h1v-1h6v-1h1v-1h1v-2h1v-1h1v-1h1v-1h4v-1h1v-1h1v-1h5v1h1v1h1v1h1v1h1v-1h1v-1h1v-1h1v-1h3v-1h1v-1h5v-1h1v-3h1v-1h1v-1h1v-1h4v1h1v1h1v1h1v2h2v-4h1v-1h1v-1h1v-1h3v-1h3v-3h1v-1h1v-1h4v-1h4v-1h1v-1h1v-1h1v-1h5v1h2v-1h5v1h1v1h1v-2h1v-1h1v-1h1v-2h1v-1h1v-1h1v-1h5v-2h1v-1h1v-1h5v1h2v-2h1v-1h1v-1h1v-1h3v-1h5v-2h1v-1h1v-1h1v-1h5v1h1v1h1v1h2v-1h1v-1h1v-1h2v-1h3v-3h1v-1h1v-1h3v-1h2v-1h1v-1h1v-1h1v-1h5v1h1v1h1v-1h1v-1h1v-1h1v-1h4v-4h1v-1h1v-1h6v1h6v-4h1v-1h1v-1h6v1h1v-1h1v-1h1v-1h8v-2h1v-4h1v-1h1v-1h6v1h2v-1h1v-1h1v-1h5v1h3v-1h1v-1h1v-1h1v-1h5v1h2v-1h4v-1h1v-1h3v-3h1v-1h1v-1h1v-2h1v-1h1v-1h1v-1h4v-1h3v-1h5v1h1v1h1v2h1v-1h1v-1h4v-4h1v-1h1v-1h1v-1h4v1h1v1h1v1h1v-1h1v-1h1v-1h1v-1h8v1h2v-1h1v-1h1v-1h3v-2h1v-1h1v-1h6v1h1v1h1v5h1v-1h3v-4h1v-1h1v-2h1v-1h1v-1h1v-1h5v1h1v1h1v3h1v-1h1v-1h5v-1h1v-1h1v-1h4v-3h1v-1h1v-1h5v1h1v1h9v1h1v1h2v-1h1v-1h1v-1h8v-1h1v-1h1v-1h1v-1h4v1h1v1h1v1h1v3h4v-7h1v-1h1v-1h6v1h2v-1h1v-2h1v-1h1v-1h5v1h1v1h1v1h3v1h1v1h1v1h1v-5h1v-1h1v-1h1v-1h10v1h1v1h1v1h1v-1h1v-1h1v-1h6v1h1v1h1v-1h1v-1h4v1h1v1h2v-1h5v1h3v-1h1v-1h2v-1h1v-1h5v1h2v-1h1v-1h5v-3h1v-1h1v-1h1v-1h5v1h1v1h1v2h3v1h1v1h3v-1h1v-1h5v1h1v-5h1v-1h1v-1h1v-1h5v1h1v1h4v1h1v1h1v1h1v2h3v-1h1v-1h2v-3h1v-1h1v-1h3v-1h1v-1h1v-1h2v-1h5v1h1v1h4v1h1v1h1v1h1v-1h2v-4h1v-1h1v-1h5v1h1v1h1v1h1v3h2v1h1v1h1v1h2v-1h3v-1h1v-6h1v-1h1v-1h1v-1h4v1h1v1h1v1h1v6h1v1h5v1h2v-2h1v-4h1v-1h1v-1h10v1h1v1h1v-1h1v-1h1v-1h5v1h2v-1h1v-1h2v-2h1v-3h1v-1h1v-1h1v-1h5v1h2v-3h1v-1h1v-1h1v-1h1v-1h1v-1h5v1h1v1h1v-1h5v1h1v1h1v1h1v5h1v-2h1v-1h1v-1h2v-1h1v-1h1v-1h2v-3h1v-1h1v-1h1v-1h2v-1h1v-1h1v-1h5v1h1v1h1v1h1v-3h1v-1h1v-1h1v-1h6v-1h6v1h1v1h1v6h1v-1h1v-1h1v-1h1v-3h1v-2h1v-1h1v-1h1v-1h1v-2h1v-1h1v-1h6v1h1v1h1v1h1v-1h1v-1h5v-2h1v-1h1v-3h1v-1h1v-1h6v-1h1v-1h1v-1h5v1h1v1h1v-1h3v-1h1v-1h1v-4h1v-1h1v-1h4v-1h1v-1h1v-1h1v-1h5v-3h1v-1h1v-1h1v-1h4v1h1v1h1v1h1v4h1v-3h1v-1h1v-1h3v-8h1v-1h1v-1h6v1h2v-4h1v-1h1v-1h5v1h1v1h2v1h2v-1h1v-1h1v-1h2v-8h1v-1h1v-1h1v-1h5v-2h1v-1h1v-1h6v1h1v1h1v8h1v-1h1v-1h1v-5h1v-1h1v-4h1v-1h1v-1h1v-1h4v-4h1v-1h1v-1h1v-1h5v1h6v1h1v-2h1v-1h1v-1h1v-1h5v1h1v1h1v-6h1v-1h1v-1h1v-1h4v1h1v1h1v1h1v1h5v-1h1v-1h1v-1h5v-1h1v-1h5v1h1v-9h1v-1h1v-1h1v-1h4v1h1v1h1v1h1v10h1v-1h4v1h1v1h1v1h1v2h1v1h3v-5h1v-1h1v-1h3v-1h1v-1h1v-1h1v-1h5v1h1v1h1v1h1v-8h1v-1h1v-1h6v1h1v1h1v1h1v-1h1v-1h1v-1h5v1h4v1h1v1h1v1h1v2h1v3h1v1h1v1h1v4h1v1h1v-1h7v-1h1v-1h3v-2h1v-1h1v-1h6v1h1v1h1v12h1v1h1v1h4v-1h1v-1h2v-1h5v1h1v1h1v2h4v-1h5v1h1v1h1v5h1v-1h1v-1h1v-1h4v1h1v1h1v1h1v1h1v1h1v6h5v1h1v1h1v7h1v1h1v1h1v4h1v1h1v2h1v1h1v1h1v2h2v-3h1v-1h1v-1h1v-1h5v1h1v1h1v3h2v1h1v1h1v1h1v6h4v1h1v1h1v1h1v2h2v1h1v1h1v4h2v1h1v1h1v1h1v3h4v1h1v1h1v7h1v1h1v1h1v1h1v6h1v1h4v1h1v1h1v1h4v1h1v1h1v7h1v1h1v8h1v1h4v1h1v1h1v1h1v1h1v1h1v5h1v1h1v2h1v-1h5v1h1v1h1v3h3v1h1v1h1v1h1v7h2v1h1v1h1v2h2v1h1v1h1v1h1v4h4v1h1v1h6v1h1v1h1v8h1v1h1v1h6v1h1v1h1v5h1v7h1v-1h6v1h1v1h1v2h1v1h1v10h4v1h1v1h1v1h1v3h1v1h3v1h1v1h1v1h1v4h2v1h1v1h1v1h1v3h2v1h1v1h1v5h4v1h1v1h3v1h1v1h1v1h1v6h1v1h1v1h3v1h1v1h1v5h1v1h1v5h3v1h1v1h1v1h1v5h1v3h3v1h5v1h1v1h1v3h3v1h1v1h1v4h1v1h1v1h1v4h2v1h1v1h1v1h1v2h4v1h1v1h1v1h1v1h1v1h1v5h2v1h1v1h1v1h1v6h5v1h1v1h2v-1h6v1h1v1h1v4h3v1h1v1h1v1h1v2h1v1h1v4h1v3h1v1h3v1h1v1h1v1h1v5h1v1h1v2h5v-1h5v1h1v1h1v3h1v1h1v1h1v1h1v1h1v1h1v1h1v1h4v1h1v1h1v1h1v1h1v1h1v1h1v1h1v3h1v1h1v1h1v1h2v1h1v1h1v8h4v-1h5v1h1v1h1v4h2v1h1v1h1v1h4v1h1v1h1v3h1v1h5v1h1v1h1v4h1v1h1v1h1v2h1v1h1v-1h6v1h3v-21h6V1463h-4v-1h-2v-1h-1v-1h-1v-1h-1v-3h-1v-1h-2v-1h-1v1h-6v-1h-1v-1h-1v-2h-2v-1h-1v-1h-1v-2h-1v-1h-2v1h-4v-1h-1v-1h-1v-1h-1v-4h-2v-1h-1v-1h-1v-1h-1v-1h-1v-1h-1v-1h-1v-1h-2v-1h-1v-1h-1v-2h-5v-1h-1v-1h-1v-2h-1v-1h-1v-1h-1v-4h-2v-1h-1v-1h-1v-1h-1v-1h-3v-1h-1v-1h-1v-3h-5v-1h-1v-1h-1v-1h-3v-1h-1v-1h-1v-4h-4v-1h-1v-1h-1v-1h-1v-5h-1v1h-5v-1h-1v-1h-1v-1h-1v-4h-1v-5h-1v-1h-1v-1h-2v1h-1v1h-4v-1h-1v-1h-1v-1h-1v-6h-1v-3h-6v-1h-1v-1h-1v-4h-1v1h-4v-1h-1v-1h-1v-1h-1v-2h-1v-2h-1v-1h-5v-1h-1v-1h-1v-1h-3v-1h-1v-1h-1v-5h-4v-1h-1v-1h-1v-1h-1v-5h-2v-1h-1v-1h-1v-1h-2v-1h-1v-1h-1v-2h-1v-1h-1v-1h-1v-1h-1v-6h-1v-1h-1v-1h-1v-1h-1v-4h-5v-1h-1v-1h-1v-1h-1v-10h-2v-1h-1v-1h-1v-5h-2v-1h-1v-1h-4v-1h-1v-1h-1v-1h-1v1h-4v-1h-1v-1h-1v-1h-1v-1h-1v-1h-1v-1h-1v-6h-1v-1h-1v-4h-1v-1h-1v-1h-1v-1h-1v-3h-1v1h-6v-1h-1v-1h-1v-9h-1v-1h-1v-1h-1v-3h-1v-3h-3v-1h-2v-1h-6v-1h-1v-1h-1v-13h-4v-1h-1v-1h-1v-1h-1v-2h-1v1h-1v1h-5v-1h-1v-1h-1v-12h-6v-1h-1v-1h-1v-1h-7v-1h-1v-1h-1v-5h-3v-1h-1v-1h-1v-1h-2v-1h-1v-1h-1v-1h-1v-5h-2v-1h-1v-1h-1v-3h-1v-1h-1v-2h-1v-1h-3v-1h-1v-1h-1v-1h-1v-11h-2v-1h-1v-1h-1v-3h-3v-1h-1v-1h-1v-8h-2v-1h-2v1h-1v1h-5v-1h-1v-1h-1v-11h-1v-1h-1v-1h-1v-1h-1v-2h-5v-1h-1v-1h-1v-1h-6v-1h-1v-1h-1v-9h-3v-1h-1v-1h-1v-10h-1v1h-4v-1h-1v-1h-1v-1h-5v-1h-5v-1h-1v-1h-1v-1h-3v-1h-1v-1h-1v-4h-5v-1h-1v-1h-1v-1h-1v-2h-3v-1h-1v-1h-1v-1h-1v-11h-4v-1h-5v-1h-1v-1h-1v-1h-3v1h-4v-1h-3v1h-1v1h-1v1h-1v1h-5v-1h-1v-1h-7v-1h-1v-1h-1v-1h-1v-1h-1v1h-1v1h-5v-1h-1v-1h-1v-6h-2v-1h-1v-1h-1v-1h-1v-2h-2v-1h-1v-1h-3v2h-1v1h-1v1h-1v1h-1v1h-5v-1h-6v-1h-2v5h-1v1h-1v1h-1v1h-5v-1h-1v-1h-1v-3h-3v-1h-1v-1h-1v6h-1v1h-1v1h-5v-1h-1v-1h-1v-1h-1v-5h-6v-1h-1v8h-1v1h-1v1h-1v1h-4v-1h-1v-1h-1v3h-1v1h-1v1h-1v1h-4v-1h-3v-1h-1v-1h-1v-1h-1v-1h-1v3h-1v1h-1v1h-1v3h-1v1h-1v1h-1v1h-5v-1h-1v-1h-1v-1h-6v-1h-2v-1h-1v-1h-1v-1h-2v1h-1v1h-4v7h-1v1h-1v1h-4v4h-1v1h-1v1h-1v1h-5v-1h-1v-1h-1v-2h-1v1h-1v1h-1v1h-1v1h-1v4h-1v1h-1v1h-1v1h-5v-1h-1v-1h-1v-2h-1v1h-1v4h-1v1h-1v1h-5v1h-1v1h-1v1h-2v1h-1v1h-4v1h-1v3h-1v1h-1v1h-1v1h-4v-1h-1v-1h-1v-1h-1v-2h-1v1h-1v6h-1v1h-1v1h-1v1h-5v-1h-1v-1h-1v-6h-1v-1h-1v11h-1v1h-1v1h-1v1h-4v-1h-2v1h-4v-1h-1v-1h-4v5h-1v1h-1v1h-5v-1h-1v-1h-1v-1h-1v-1h-1v1h-1v1h-1v1h-3v2h-1v1h-1v6h-1v1h-1v1h-1v1h-4v-1h-1v-1h-1v-1h-1v-1h-2v4h-1v1h-1v1h-1v1h-4v-1h-1v-1h-1v3h-1v1h-1v1h-4v3h-1v1h-1v1h-6v-1h-1v1h-6v2h-1v1h-1v1h-9v-1h-1v-1h-4v-1h-1v-1h-1v-1h-1v5h-1v1h-1v1h-1v1h-1v1h-6v1h-6v-1h-1v-1h-1v-5h-2v5h-1v1h-1v1h-1v1h-5v-1h-1v-1h-3v-1h-1v-1h-2v5h-1v1h-1v1h-3v1h-1v1h-1v1h-4v1h-4v1h-1v2h-1v1h-1v1h-1v1h-6v-1h-6v-1h-1v-1h-2v1h-1v1h-1v1h-5v-1h-1v-1h-1v1h-4v-1h-1v-1h-1v-1h-3v3h-1v1h-1v1h-1v1h-4v-1h-1v-1h-1v-1h-2v1h-5v-1h-1v-1h-1v-1h-8v1h-1v1h-1v1h-4v-1h-1v1h-1v1h-1v1h-6v-1h-1v-1h-1v-2h-2v3h-1v1h-1v1h-1v1h-5v-1h-1v-1h-1v-3h-1v2h-1v1h-1v1h-1v1h-2v2h-1v1h-1v1h-1v1h-4v-1h-1v-1h-1v-1h-1v-1h-3v-1h-1v-1h-1v-1h-1v-1h-1v1h-1v1h-9v1h-1v1h-5v-1h-1v-1h-2v1h-1v3h-1v1h-1v1h-1v1h-1v1h-1v1h-5v-1h-1v-1h-3v-1h-1v-1h-1v5h-1v1h-1v1h-1v1h-5v-1h-1v-1h-1v-3h-1v3h-1v1h-1v1h-6v-1h-1v-1h-5v-1h-3v1h-1v1h-1v1h-1v1h-3v1h-1v1h-1v1h-7v-1h-1v-1h-1v-1h-1v-1h-4v-1h-2v1h-1v1h-1v1h-4v-1h-2v2h-1v1h-1v1h-1v1h-1v1h-5v-1h-1v-1h-1v-1h-1v-3h-2v1h-3v1h-1v6h-1v1h-1v1h-5v-1h-1v-1h-4v1h-1v1h-1v1h-1v1h-4v-1h-1v-1h-7v-1h-1v-1h-2v1h-1v1h-1v1h-3v3h-1v1h-1v1h-1v1h-4v-1h-1v-1h-1v-1h-6v-1h-1v1h-1v1h-4v1h-5v1h-1v1h-1v1h-5v-1h-1v1h-1v1h-5v1h-7v1h-1v1h-6v-1h-1v-1h-1v2h-1v1h-1v1h-3v1h-1v1h-5v1h-5v4h-1v1h-1v1h-1v1h-5v-1h-1v2h-1v1h-1v1h-5v-1h-1v1h-1v1h-3v1h-8v-1h-1v-1h-1v2h-1v4h-1v1h-1v1h-1v1h-4v-1h-2v1h-1v1h-1v1h-3v2h-1v1h-1v1h-9v1h-1v1h-1v1h-6v1h-8v-1h-1v1h-1v2h-1v1h-1v1h-2v1h-1v1h-5v-1h-1v-1h-1v1h-1v4h-1v1h-1v1h-6v1h-1v1h-1v1h-3v1h-1v3h-1v1h-1v1h-7v-1h-1v1h-1v1h-5v-1h-3v-1h-2v-1h-1v1h-1v3h-1v2h-1v1h-1v1h-5v4h-1v1h-1v1h-1v1h-4v-1h-1v1h-4v1h-1v1h-4v1h-6v-1h-2v1h-1v1h-3v1h-1v2h-1v1h-1v3h-1v1h-1v1h-7v-1h-2v1h-1v1h-2v1h-1v1h-1v1h-1v1h-4v-1h-1v1h-1v1h-1v1h-1v1h-1v1h-1v1h-1v1h-10v1h-1v1h-6v-1h-2v1h-2v1h-1v1h-1v1h-1v1h-7v-1h-2v4h-1v1h-1v1h-6v-1h-1v-1h-3v1h-1v1h-6v1h-1v1h-3v2h-1v1h-1v1h-1v1h-5v-1h-1v-1h-1v-1h-1v2h-1v1h-1v1h-1v1h-4v-1h-4v1h-1v1h-1v1h-3v1h-7v1h-5v2h-1v1h-1v1h-1v1h-4v-1h-1v1h-6v1h-1v1h-1v1h-4v-1h-1v-1h-6v4h-1v1h-1v1h-1v1h-4v-1h-1v-1h-10v-1h-1v1h-1v1h-4v1h-1v1h-2v1h-1v1h-4v2h-1v1h-1v1h-6v-1h-2v1h-9v1h-1v1h-4v1h-1v1h-1v1h-4v-1h-2v1h-5v1h-1v1h-1v1h-6v-1h-1v1h-6v1h-1v1h-1v1h-6v-1h-1v-1h-1v-1h-1v2h-1v1h-1v1h-6v-1h-1v-1h-1v3h-1v1h-1v1h-1v1h-5v-1h-2v1h-1v1h-1v1h-5v-1h-1v-1h-1v1h-3v1h-1v1h-1v1h-3v1h-3v1h-8v-1h-1v-1h-1v-1h-1v-1h-1v2h-1v1h-1v1h-5v-1h-1v-1h-1v1h-1v1h-1v1h-3v1h-1v1h-1v1h-6v1h-1v1h-3v1h-1v1h-1v1h-6v-1h-3v1h-1v1h-4v-1h-1v-1h-1v-1h-3v1h-1v1h-1v2h-1v1h-1v1h-1v1h-4v-1h-4v1h-2v1h-5v-1h-1v-1h-1v1h-1v1h-1v1h-5v-1h-1v-1h-1v-1h-6v1h-4v1h-10v-1h-1v-1h-3v-1h-5v1h-2v1h-5v-1h-5v1h-1v1h-1v1h-5v-1h-3v-1h-1v1h-1v1h-2z" fill="#00f"/>
</g>
<g class="lg" shape-rendering="crispEdges">
<rect x="298" y="359" width="175" height="10" fill="#f00"/>
<rect x="298" y="473" width="175" height="11" fill="#0f0"/>
<rect x="298" y="588" width="175" height="10" fill="#00f"/>
<text x="494" y="391">MoS<tspan dy="21" font-size="51">2</tspan></text>
<text x="494" y="505.5">MoS<tspan dy="21" font-size="51">2</tspan><tspan dy="-21">/PtSe</tspan><tspan dy="21" font-size="51">2</tspan></text>
<text x="494" y="620">MoS<tspan dy="21" font-size="51">2</tspan><tspan dy="-21">/PtTe</tspan><tspan dy="21" font-size="51">2</tspan></text>
</g>
</svg>
</body></html>
